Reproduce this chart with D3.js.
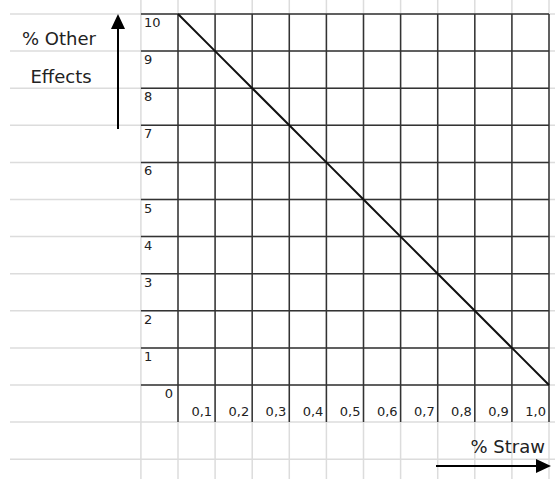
<!DOCTYPE html>
<html><head><meta charset="utf-8">
<script src="https://cdn.jsdelivr.net/npm/d3@7"></script>
<style>body{margin:0;background:#fff}svg{display:block}</style>
</head><body>
<script>
const xTicks = [0.1,0.2,0.3,0.4,0.5,0.6,0.7,0.8,0.9,1.0];
const xTickLabels = ["0,1","0,2","0,3","0,4","0,5","0,6","0,7","0,8","0,9","1,0"];
const yTicks = [1,2,3,4,5,6,7,8,9,10];
const yTickLabels = ["1","2","3","4","5","6","7","8","9","10"];
const straw = [0, 0.1, 0.2, 0.3, 0.4, 0.5, 0.6, 0.7, 0.8, 0.9, 1.0];
const otherEffects = [10, 9, 8, 7, 6, 5, 4, 3, 2, 1, 0];
const xTitle = "% Straw";
const yTitle = ["% Other", "Effects"];

const W = 555, H = 479;
const svg = d3.select("body").append("svg").attr("width", W).attr("height", H);
const x = d3.scaleLinear().domain([0, 1]).range([178, 549]);
const y = d3.scaleLinear().domain([0, 10]).range([385, 14]);
const font = "DejaVu Sans, Verdana, sans-serif";
const light = "#dcdcdc", dark = "#333";

// light spreadsheet grid
const lightCols = d3.range(-1, 11).map(k => k / 10);
svg.append("g").selectAll("line").data(lightCols).join("line")
  .attr("x1", d => x(d)).attr("x2", d => x(d)).attr("y1", 0).attr("y2", H)
  .attr("stroke", light).attr("stroke-width", 1.5);
const lightRows = d3.range(-2, 11);
svg.append("g").selectAll("line").data(lightRows).join("line")
  .attr("x1", 10).attr("x2", W).attr("y1", d => y(d)).attr("y2", d => y(d))
  .attr("stroke", light).attr("stroke-width", 1.5);

// dark grid
svg.append("g").selectAll("line").data([0].concat(yTicks)).join("line")
  .attr("x1", x(-0.1)).attr("x2", x(1)).attr("y1", d => y(d)).attr("y2", d => y(d))
  .attr("stroke", dark).attr("stroke-width", 1.5);
svg.append("g").selectAll("line").data([0].concat(xTicks)).join("line")
  .attr("x1", d => x(d)).attr("x2", d => x(d)).attr("y1", y(10)).attr("y2", y(-1))
  .attr("stroke", dark).attr("stroke-width", 1.5);

// tick labels
svg.append("g").selectAll("text").data(yTicks).join("text")
  .attr("x", x(-0.1) + 3).attr("y", d => y(d) + 13)
  .attr("font-family", font).attr("font-size", 13).attr("fill", "#222")
  .text((d, i) => yTickLabels[i]);
svg.append("g").selectAll("text").data(xTicks).join("text")
  .attr("x", d => x(d) - 3).attr("y", y(-1) - 6).attr("text-anchor", "end")
  .attr("font-family", font).attr("font-size", 13).attr("fill", "#222")
  .text((d, i) => xTickLabels[i]);
svg.append("text").attr("x", x(0) - 5).attr("y", y(0) + 13).attr("text-anchor", "end")
  .attr("font-family", font).attr("font-size", 13).attr("fill", "#222").text("0");

// line
const line = d3.line().x((d, i) => x(straw[i])).y(d => y(d));
svg.append("path").datum(otherEffects).attr("d", line)
  .attr("fill", "none").attr("stroke", "#111").attr("stroke-width", 2);

// titles
svg.append("text").attr("x", 59).attr("y", 45).attr("text-anchor", "middle")
  .attr("font-family", font).attr("font-size", 18).attr("fill", "#222").text(yTitle[0]);
svg.append("text").attr("x", 61).attr("y", 83).attr("text-anchor", "middle")
  .attr("font-family", font).attr("font-size", 18).attr("fill", "#222").text(yTitle[1]);
svg.append("text").attr("x", 545).attr("y", 453).attr("text-anchor", "end")
  .attr("font-family", font).attr("font-size", 18).attr("fill", "#222").text(xTitle);

// arrows
svg.append("line").attr("x1", 118).attr("x2", 118).attr("y1", 129).attr("y2", 26)
  .attr("stroke", "#000").attr("stroke-width", 2);
svg.append("path").attr("d", "M118,14 L111,29 L125,29 Z").attr("fill", "#000");
svg.append("line").attr("x1", 436).attr("x2", 538).attr("y1", 466).attr("y2", 466)
  .attr("stroke", "#000").attr("stroke-width", 2);
svg.append("path").attr("d", "M551,466 L536,459 L536,473 Z").attr("fill", "#000");
</script>
</body></html>
